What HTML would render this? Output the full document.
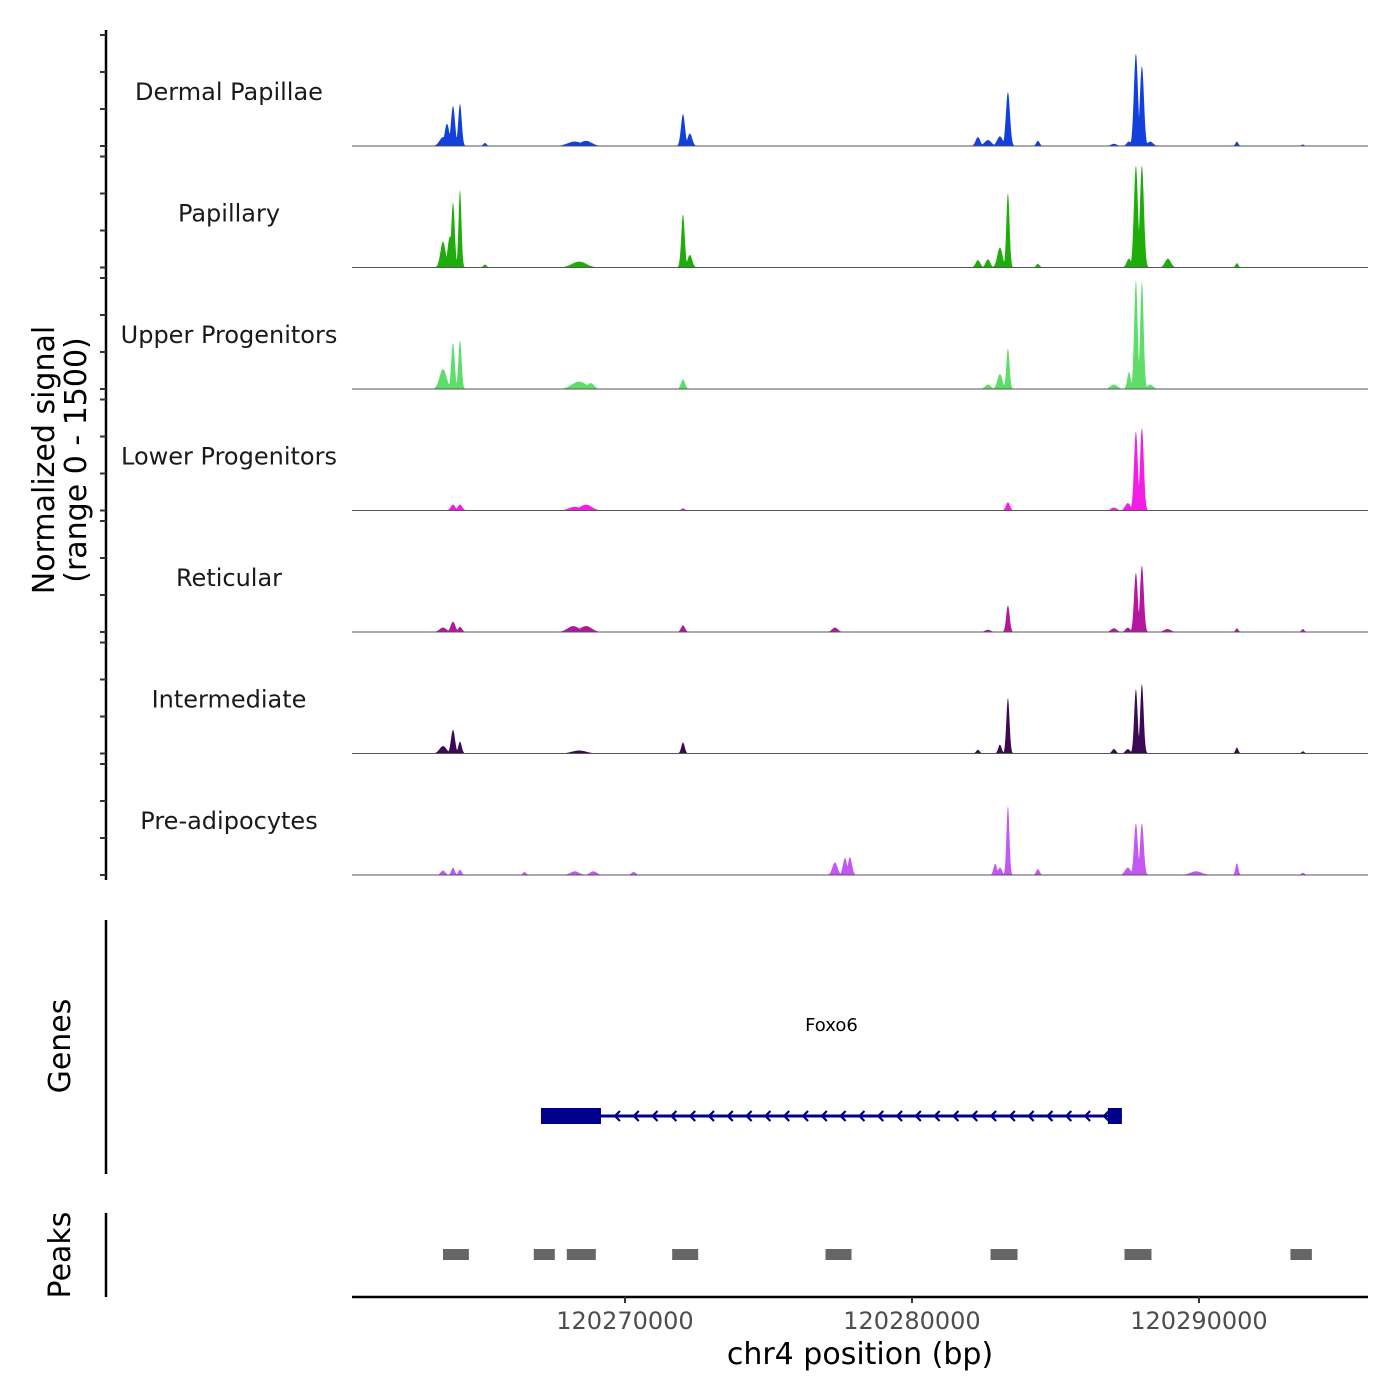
<!DOCTYPE html>
<html><head><meta charset="utf-8"><style>
html,body{margin:0;padding:0;background:#fff;}
svg{display:block;font-family:"DejaVu Sans","Liberation Sans",sans-serif;}
</style></head><body>
<svg id="chart" width="1400" height="1400" viewBox="0 0 1400 1400" xmlns="http://www.w3.org/2000/svg">
<g id="tracks"></g>
<g id="leftaxis"></g>
<text transform="translate(54,460) rotate(-90)" text-anchor="middle" font-size="30" fill="#000">Normalized signal</text>
<text transform="translate(86,460) rotate(-90)" text-anchor="middle" font-size="30" fill="#000">(range 0 - 1500)</text>
<line x1="106" y1="920" x2="106" y2="1174" stroke="#000" stroke-width="2.5"/>
<text transform="translate(70,1046) rotate(-90)" text-anchor="middle" font-size="30" fill="#000">Genes</text>
<line x1="106" y1="1213" x2="106" y2="1297" stroke="#000" stroke-width="2.5"/>
<text transform="translate(70,1255) rotate(-90)" text-anchor="middle" font-size="30" fill="#000">Peaks</text>
<g id="genes"></g>
<g id="peaks"></g>
<g id="xaxis"></g>
<text x="860" y="1364" text-anchor="middle" font-size="30" fill="#000">chr4 position (bp)</text>
</svg>
<script>
const NS="http://www.w3.org/2000/svg";
const trackNames=["Dermal Papillae","Papillary","Upper Progenitors","Lower Progenitors","Reticular","Intermediate","Pre-adipocytes"];
const trackColors=["#1240dc","#1fad0c","#5edd6b","#f21ee6","#b3179f","#3c0a55","#c457f2"];
// peaks: [position bp, signal value, width bp]
const dermalPeaks=[[120263659,120,120],[120263798,300,80],[120264007,540,70],[120264251,570,60],[120265122,40,60],[120268250,60,250],[120268640,70,200],[120272021,430,70],[120272260,170,80],[120282298,120,80],[120282646,80,120],[120283064,130,100],[120283343,730,70],[120284388,70,60],[120287036,30,100],[120287560,60,80],[120287802,1250,70],[120288011,1080,70],[120288300,60,100],[120291321,60,50],[120293621,20,50]];
const papillaryPeaks=[[120263659,350,90],[120263900,420,80],[120264007,880,60],[120264251,1050,50],[120265122,40,60],[120268400,80,250],[120272021,720,60],[120272260,170,80],[120282298,100,80],[120282646,110,80],[120283064,270,90],[120283343,1010,55],[120284388,50,60],[120287560,120,80],[120287802,1380,70],[120288011,1380,70],[120288917,120,100],[120291321,60,50]];
const upperPeaks=[[120263659,270,120],[120264007,620,60],[120264251,660,55],[120268400,100,250],[120268800,80,120],[120272021,130,70],[120282646,60,100],[120283064,200,90],[120283343,550,55],[120287036,60,120],[120287560,230,60],[120287802,1470,60],[120288011,1450,60],[120288300,60,100]];
const lowerPeaks=[[120264007,80,80],[120264251,80,80],[120268250,50,200],[120268640,80,200],[120272021,30,60],[120283343,110,70],[120287036,40,100],[120287520,100,90],[120287802,1070,65],[120288011,1120,65]];
const reticularPeaks=[[120263659,60,120],[120264007,140,80],[120264251,70,70],[120268200,80,200],[120268640,80,200],[120272021,90,70],[120277316,60,100],[120282646,30,100],[120283343,360,60],[120287036,50,100],[120287520,60,80],[120287802,800,65],[120288011,900,65],[120288900,40,120],[120291321,50,50],[120293621,40,50]];
const intermediatePeaks=[[120263659,100,120],[120264007,320,70],[120264251,160,60],[120268400,40,250],[120272021,150,60],[120282298,50,60],[120283064,120,60],[120283343,750,55],[120287036,60,70],[120287520,60,80],[120287802,870,60],[120288011,940,60],[120291321,80,50],[120293621,30,50]];
const preadipoPeaks=[[120263659,60,80],[120264007,100,60],[120264251,70,60],[120266500,40,60],[120268250,50,150],[120268900,50,120],[120270300,40,80],[120277316,170,90],[120277664,230,70],[120277838,240,70],[120282900,150,60],[120283064,100,70],[120283343,940,50],[120284388,80,60],[120287520,100,100],[120287802,700,65],[120288011,700,65],[120289900,50,200],[120291321,160,50],[120293621,30,60]];
const trackPeaks=[dermalPeaks,papillaryPeaks,upperPeaks,lowerPeaks,reticularPeaks,intermediatePeaks,preadipoPeaks];
const yTickValues=[0,500,1000,1500];
const genes=[{name:"Foxo6",start:120267073,end:120287314,strand:"-",exons:[[120267073,120269163],[120286827,120287314]]}];
const peakRegions=[[120263659,120264560],[120266822,120267554],[120267973,120268983],[120271644,120272550],[120276987,120277893],[120282736,120283677],[120287404,120288345],[120293186,120293933]];
const xTickValues=[120270000,120280000,120290000];
const xTickLabels=["120270000","120280000","120290000"];

const xmin=120260488, xmax=120295889;
const X0=352, X1=1368;
const xs=v=>X0+(v-xmin)/(xmax-xmin)*(X1-X0);
const trackH=121.5, firstBase=146, fullPx=111;
const ys=(v,base)=>base-v/1500*fullPx;
function el(tag,attrs,parent){const e=document.createElementNS(NS,tag);for(const k in attrs)e.setAttribute(k,attrs[k]);parent.appendChild(e);return e;}

const tg=document.getElementById('tracks');
const la=document.getElementById('leftaxis');
const ax=el('line',{x1:106,y1:30,x2:106,y2:880,stroke:'#000','stroke-width':2.5},la);


trackNames.forEach((name,i)=>{
  const base=firstBase+i*trackH;
  const g=el('g',{},tg);
  
  
  const pk=trackPeaks[i];
  let d='M'+X0+','+base;
  for(let px=X0;px<=X1;px+=0.5){
    const bp=xmin+(px-X0)/(X1-X0)*(xmax-xmin);
    let v=0;
    for(const p of pk){const z=(bp-p[0])/p[2];if(Math.abs(z)<4){const s=p[1]*Math.exp(-0.5*z*z);if(s>v)v=s;}}
    d+=' L'+px.toFixed(1)+','+ys(v,base).toFixed(2);
  }
  d+=' L'+X1+','+base+' Z';
  const area=el('path',{d:d,fill:trackColors[i]},g);
  
  
  const bl=el('line',{x1:X0,y1:base,x2:X1,y2:base,stroke:'#555','stroke-width':1},g);
  
  
  const lab=el('text',{x:229,y:base-46,'text-anchor':'middle','font-size':24,fill:'#1a1a1a'},g);
  lab.textContent=name;
  
  
  yTickValues.forEach(t=>{
    const tk=el('line',{x1:100,x2:106,y1:ys(t,base),y2:ys(t,base),stroke:'#333','stroke-width':2},la);
    
    
  });
});

const gg=document.getElementById('genes');
genes.forEach(gn=>{
  const gy=1116;
  const ln=el('line',{x1:xs(gn.start),x2:xs(gn.end),y1:gy,y2:gy,stroke:'#00008b','stroke-width':3},gg);
  
  
  gn.exons.forEach(e=>{
    const r=el('rect',{x:xs(e[0]),y:gy-8,width:xs(e[1])-xs(e[0]),height:16,fill:'#00008b'},gg);
    
    
  });
  const a0=xs(gn.exons[0][1])+14, a1=xs(gn.exons[1][0])-4;
  const n=Math.round((a1-a0)/19.1);
  for(let k=0;k<=n;k++){
    const x=a0+k*(a1-a0)/n;
    const ar=el('path',{d:`M${x+5},${gy-5} L${x},${gy} L${x+5},${gy+5}`,fill:'none',stroke:'#00008b','stroke-width':2.2},gg);
    
    
  }
  const t=el('text',{x:(xs(gn.start)+xs(gn.end))/2,y:1031,'text-anchor':'middle','font-size':18,fill:'#000'},gg);
  t.textContent=gn.name;
  
  
});

const pg=document.getElementById('peaks');
peakRegions.forEach(p=>{
  const r=el('rect',{x:xs(p[0]),y:1249,width:xs(p[1])-xs(p[0]),height:11,fill:'#666'},pg);
  
  
});

const xg=document.getElementById('xaxis');
const xl=el('line',{x1:X0,x2:X1,y1:1297,y2:1297,stroke:'#000','stroke-width':2.5},xg);


xTickValues.forEach((v,i)=>{
  const tk=el('line',{x1:xs(v),x2:xs(v),y1:1297,y2:1303,stroke:'#333','stroke-width':2},xg);
  
  
  const t=el('text',{x:xs(v),y:1329,'text-anchor':'middle','font-size':24,fill:'#4d4d4d'},xg);
  t.textContent=xTickLabels[i];
  
  
});
</script>
</body></html>
